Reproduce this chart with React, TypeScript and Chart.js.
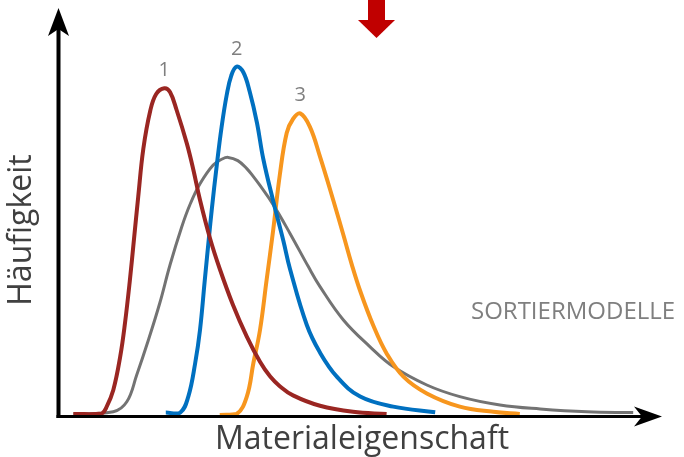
import React, { useEffect, useRef } from "react";
import { Chart, registerables } from "chart.js";

Chart.register(...registerables);

// Materialeigenschaft (x, 0..100) vs. Häufigkeit (y, 0..100)
const redX = [2.4, 7.1, 7.95, 9.05, 10.2, 11.0, 11.8, 12.5, 13.2, 14.05, 15.2, 16.2, 17.55, 18.5, 19.6, 21.3, 22.4, 23.5, 25.2, 26.8, 29.0, 31.3, 33.5, 35.2, 36.8, 39.0, 43.5, 49.0, 54.6];
const redY = [0.25, 0.4, 2.1, 6.25, 14.6, 23, 33.5, 44, 54.5, 66.5, 76, 80.25, 81.7, 80.75, 76.25, 67.9, 61.25, 53.75, 44, 36.5, 27.5, 19.6, 13.3, 9.6, 7.2, 4.9, 2.3, 0.8, 0.25];

const blueX = [17.8, 20.2, 21.55, 22.7, 23.5, 24.3, 25.0, 25.45, 26.3, 27.1, 27.95, 28.7, 29.6, 30.7, 31.8, 33.0, 34.05, 35.7, 37.4, 38.5, 41.3, 43.5, 46.3, 50.2, 55.7, 62.7];
const blueY = [0.6, 0.6, 4.6, 13, 21.25, 33.75, 44.5, 51.2, 62.5, 72, 80, 84.8, 87.1, 85.75, 80.75, 73, 64, 53.5, 43.5, 36.5, 22.5, 15.6, 9.6, 4.6, 2.1, 0.7];

const orangeX = [26.8, 29.6, 31.3, 32.4, 33.5, 34.6, 35.7, 36.8, 37.95, 39.0, 40.2, 41.8, 43.5, 45.7, 47.4, 48.8, 50.2, 52.4, 54.6, 57.4, 61.3, 66.8, 72.4, 76.8];
const orangeY = [0, 0.25, 4.6, 13, 21.25, 33.75, 46.25, 60, 70.5, 74.0, 75.4, 72.1, 64.6, 53.75, 45, 37.6, 31, 22.3, 15.4, 9.6, 5.4, 2.1, 0.8, 0.25];

const grayX = [2.4, 9.05, 11.3, 12.95, 14.9, 16.8, 18.5, 20.45, 21.8, 23.5, 25.7, 27.2, 28.2, 29.8, 31.3, 32.4, 33.5, 35.7, 38.5, 41.55, 43.5, 47.4, 51.8, 55.7, 61.3, 66.8, 73.5, 80.2, 88.0, 95.7];
const grayY = [0.25, 0.8, 3.3, 10.0, 18.75, 28, 37.5, 47, 52.5, 57.8, 62.5, 64, 64.4, 63.6, 61.6, 59.6, 57.4, 52.6, 45.4, 37.1, 32.1, 23.75, 17.1, 12.1, 7.5, 4.6, 2.5, 1.5, 0.8, 0.6];

const curveLabels = ["1", "2", "3"];
const xTitle = "Materialeigenschaft";
const yTitle = "Häufigkeit";
const sideNote = "SORTIERMODELLE";

const toPts = (xs: number[], ys: number[]) => xs.map((x, i) => ({ x, y: ys[i] }));

const overlay = {
  id: "overlay",
  afterDraw(chart: any) {
    const ctx = chart.ctx as CanvasRenderingContext2D;
    const xs = chart.scales.x;
    const ys = chart.scales.y;
    const ca = chart.chartArea;
    ctx.save();

    // curve number labels above peaks
    ctx.fillStyle = "#7f7f7f";
    ctx.font = "20px 'Open Sans'";
    ctx.textAlign = "center";
    ctx.textBaseline = "alphabetic";
    [0, 1, 2].forEach((di) => {
      const data = chart.data.datasets[di].data as { x: number; y: number }[];
      let best = data[0];
      data.forEach((p) => { if (p.y > best.y) best = p; });
      const px = xs.getPixelForValue(best.x);
      const py = ys.getPixelForValue(best.y);
      ctx.fillText(curveLabels[di], px, py - 12);
    });

    // axes with arrow heads
    ctx.fillStyle = "#000";
    const ax = ca.left - 0.5;
    const ay = ca.bottom + 1.5;
    ctx.fillRect(ax - 2, 28, 4, ay - 28 + 1.5);
    ctx.beginPath();
    ctx.moveTo(ax, 8);
    ctx.lineTo(ax + 10.5, 36);
    ctx.lineTo(ax, 29);
    ctx.lineTo(ax - 10.5, 36);
    ctx.closePath();
    ctx.fill();

    ctx.fillRect(ax - 2, ay - 1.5, 645 - ax, 3);
    ctx.beginPath();
    ctx.moveTo(662, ay);
    ctx.lineTo(634, ay - 10);
    ctx.lineTo(642, ay);
    ctx.lineTo(634, ay + 10);
    ctx.closePath();
    ctx.fill();

    // red arrow at top
    ctx.fillStyle = "#C00000";
    ctx.fillRect(368, 0, 17, 21);
    ctx.beginPath();
    ctx.moveTo(358, 20);
    ctx.lineTo(395, 20);
    ctx.lineTo(376.5, 38);
    ctx.closePath();
    ctx.fill();

    // titles
    ctx.fillStyle = "#404040";
    ctx.font = "32px 'Open Sans'";
    ctx.textAlign = "center";
    ctx.textBaseline = "alphabetic";
    ctx.fillText(xTitle, 362, 449);
    ctx.save();
    ctx.translate(31, 230);
    ctx.rotate(-Math.PI / 2);
    ctx.fillText(yTitle, 0, 0);
    ctx.restore();

    ctx.fillStyle = "#7f7f7f";
    ctx.font = "24px 'Open Sans'";
    ctx.textAlign = "left";
    ctx.fillText(sideNote, 471, 319);

    ctx.restore();
  },
};

export default function App() {
  const ref = useRef<HTMLCanvasElement | null>(null);
  useEffect(() => {
    if (!ref.current) return;
    const mk = (xs: number[], ys: number[], color: string, w: number) => ({
      data: toPts(xs, ys),
      borderColor: color,
      borderWidth: w,
      pointRadius: 0,
      fill: false,
      tension: 0.4,
    });
    const chart = new Chart(ref.current, {
      type: "line",
      data: {
        datasets: [
          mk(redX, redY, "#9A2622", 4),
          mk(blueX, blueY, "#0070C0", 4),
          mk(orangeX, orangeY, "#F7961E", 4),
          mk(grayX, grayY, "#737373", 3),
        ],
      },
      options: {
        animation: false,
        responsive: false,
        events: [],
        layout: { padding: { left: 59, right: 25, top: 15, bottom: 42 } },
        plugins: { legend: { display: false }, tooltip: { enabled: false } },
        scales: {
          x: { type: "linear", min: 0, max: 100, display: false },
          y: { type: "linear", min: 0, max: 100, display: false },
        },
      },
      plugins: [overlay],
    });
    return () => chart.destroy();
  }, []);
  return (
    <div style={{ position: "fixed", left: 0, top: 0, width: 684, height: 457, background: "#fff" }}>
      <canvas ref={ref} width={684} height={457} />
    </div>
  );
}
